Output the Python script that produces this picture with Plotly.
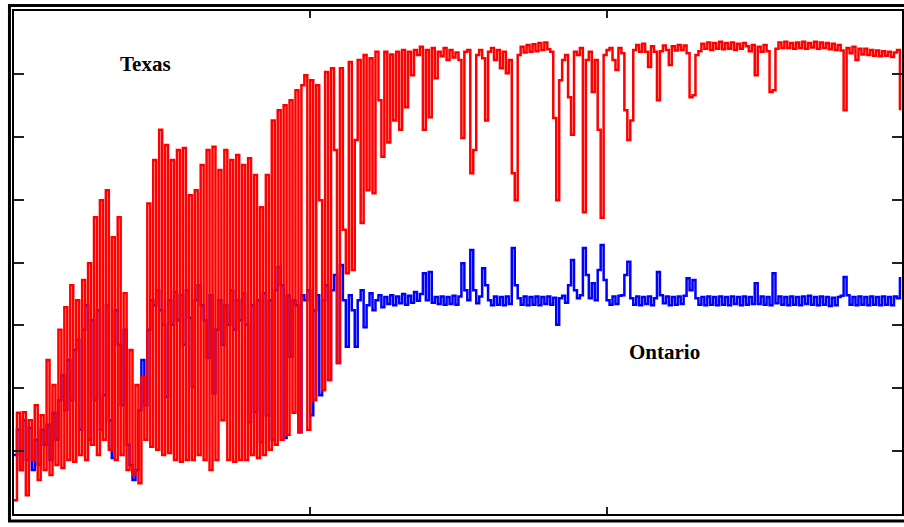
import plotly.graph_objects as go

# Sample spacing along the (unlabelled) horizontal axis
x_step = 10

texas = [
    2.2, 16.1, 7.0, 16.2, 3.0, 14.9, 8.6, 17.3, 5.4, 15.7,
    7.0, 24.5, 6.2, 20.5, 7.8, 29.3, 7.3, 32.9, 8.6, 36.4,
    8.3, 34.0, 9.4, 37.2, 8.6, 39.9, 11.0, 47.2, 9.4, 49.9,
    11.8, 51.5, 10.2, 44.0, 8.6, 47.2, 9.4, 35.1, 7.0, 26.1,
    6.2, 20.5, 4.9, 21.8, 11.8, 49.4, 10.7, 56.3, 10.2, 61.1,
    9.4, 58.7, 9.7, 56.3, 8.6, 57.9, 8.3, 58.2, 8.6, 50.7,
    8.6, 51.5, 9.4, 55.5, 8.6, 57.9, 7.0, 58.4, 8.6, 54.7,
    14.9, 57.9, 8.6, 56.3, 8.3, 57.1, 8.6, 55.5, 8.6, 56.6,
    9.4, 53.9, 8.9, 48.8, 9.4, 53.9, 10.2, 62.6, 11.0, 64.2,
    11.8, 65.0, 12.6, 65.8, 16.1, 67.4, 13.0, 68.2, 69.8, 13.4,
    69.0, 18.1, 68.2, 49.9, 19.7, 70.3, 21.3, 70.9, 57.9, 24.0,
    70.9, 45.2, 38.3, 71.9, 38.8, 59.5, 72.2, 46.3, 73.0, 51.5,
    72.5, 51.0, 73.5, 65.8, 56.8, 73.5, 59.1, 73.1, 62.6, 73.5,
    61.1, 73.8, 64.7, 73.5, 69.8, 73.8, 73.0, 74.3, 61.1, 73.8,
    63.1, 74.1, 69.3, 73.5, 72.8, 74.1, 72.2, 73.8, 72.6, 73.4,
    72.2, 59.8, 73.5, 73.8, 54.2, 57.9, 73.0, 73.8, 72.5, 62.6,
    73.5, 74.1, 72.2, 73.8, 70.9, 73.5, 70.1, 72.2, 54.2, 49.9,
    73.0, 74.3, 73.4, 74.6, 73.5, 74.7, 73.6, 74.9, 73.8, 75.0,
    73.9, 73.5, 63.0, 49.9, 69.0, 72.2, 73.0, 66.3, 60.3, 73.5,
    73.0, 74.1, 48.0, 72.2, 73.5, 67.1, 72.2, 61.1, 47.1, 73.0,
    73.8, 74.1, 72.2, 70.6, 74.1, 73.3, 64.2, 59.5, 62.6, 73.8,
    74.6, 73.5, 74.8, 73.5, 71.1, 74.4, 73.5, 65.8, 73.6, 74.5,
    73.8, 71.4, 74.4, 73.7, 74.6, 73.8, 74.5, 73.3, 66.3, 66.6,
    73.0, 73.6, 74.8, 74.0, 75.0, 73.8, 74.9, 74.0, 75.1, 73.9,
    74.9, 74.0, 75.0, 73.8, 74.8, 74.0, 74.9, 74.4, 73.6, 74.6,
    69.8, 74.3, 73.5, 74.6, 73.6, 67.1, 67.4, 74.0, 75.0, 74.1,
    75.1, 74.1, 74.9, 74.0, 75.0, 74.1, 75.1, 74.0, 74.9, 74.2,
    75.1, 74.0, 75.0, 74.1, 74.9, 73.9, 74.8, 73.8, 74.6, 73.7,
    64.2, 74.1, 73.3, 74.3, 72.2, 74.0, 73.1, 74.0, 73.0, 73.8,
    72.9, 73.7, 72.8, 73.6, 72.9, 73.5, 72.7, 73.4, 73.8, 64.2,
]

ontario = [
    9.4, 13.4, 7.0, 14.9, 8.6, 13.7, 7.0, 11.8, 7.8, 13.4,
    11.0, 14.2, 8.6, 16.1, 11.8, 18.1, 22.1, 16.5, 24.5, 18.1,
    26.1, 27.7, 13.4, 29.3, 33.2, 11.8, 30.8, 18.1, 32.4, 13.4,
    18.9, 33.2, 14.9, 8.9, 32.4, 26.9, 17.3, 29.3, 11.0, 7.8,
    5.4, 7.0, 16.5, 24.5, 17.3, 29.3, 34.0, 33.2, 35.6, 32.4,
    30.1, 18.6, 34.0, 30.1, 35.3, 30.8, 34.8, 26.9, 35.6, 31.2,
    20.2, 34.0, 36.4, 33.2, 30.8, 24.8, 34.8, 19.2, 29.3, 34.0,
    26.9, 33.2, 30.1, 35.6, 29.3, 34.0, 30.8, 35.1, 30.1, 14.6,
    33.2, 16.2, 34.0, 11.4, 35.1, 15.7, 34.0, 11.8, 35.6, 39.3,
    36.4, 12.1, 34.8, 25.0, 34.0, 33.2, 13.0, 34.8, 34.0, 35.6,
    15.7, 32.4, 34.8, 18.9, 34.0, 36.4, 21.3, 35.6, 38.0, 24.0,
    39.6, 34.0, 26.6, 34.8, 32.4, 26.6, 34.0, 35.6, 29.7, 33.2,
    35.1, 32.4, 34.0, 34.8, 32.9, 34.5, 33.4, 34.8, 33.2, 34.6,
    33.5, 35.0, 33.3, 34.7, 33.6, 35.3, 33.9, 35.0, 38.3, 34.0,
    38.5, 33.6, 34.5, 33.4, 34.6, 33.3, 34.5, 33.4, 34.7, 33.3,
    34.6, 39.9, 35.6, 34.0, 42.0, 35.6, 33.5, 34.6, 39.1, 36.4,
    34.0, 33.2, 34.6, 33.3, 34.5, 33.2, 34.6, 33.4, 42.3, 36.4,
    34.3, 33.3, 34.6, 33.2, 34.5, 33.3, 34.6, 33.2, 34.5, 33.4,
    34.6, 33.3, 34.4, 30.1, 34.3, 34.7, 33.6, 36.4, 40.4, 35.6,
    34.3, 34.8, 42.3, 38.0, 34.3, 36.7, 34.0, 38.8, 42.8, 37.2,
    34.0, 33.3, 34.6, 33.4, 34.7, 34.8, 38.0, 40.1, 34.3, 33.3,
    34.6, 33.2, 34.5, 33.4, 34.6, 33.2, 34.3, 38.5, 34.8, 33.5,
    34.6, 33.2, 34.5, 33.3, 34.6, 33.4, 34.7, 37.5, 35.6, 37.2,
    34.3, 33.3, 34.5, 33.2, 34.6, 33.3, 34.5, 33.2, 34.6, 33.3,
    34.5, 33.2, 34.6, 33.4, 34.5, 33.2, 34.6, 33.3, 34.5, 33.4,
    36.7, 33.4, 34.6, 33.3, 34.5, 33.2, 38.3, 33.5, 34.6, 33.3,
    34.5, 33.2, 34.6, 33.3, 34.5, 33.2, 34.6, 33.4, 34.7, 33.3,
    34.5, 33.2, 34.6, 33.3, 34.5, 33.1, 34.4, 33.2, 34.5, 34.7,
    37.7, 34.8, 33.3, 34.5, 33.2, 34.6, 33.3, 34.5, 33.2, 34.6,
    33.3, 34.5, 33.2, 34.6, 33.3, 34.5, 33.2, 34.6, 34.3, 37.7,
]

y_ticks = [10, 20, 30, 40, 50, 60, 70]
x_ticks = [1000, 2000]

x_texas = [i * x_step for i in range(len(texas))]
x_ontario = [i * x_step for i in range(len(ontario))]

fig = go.Figure()
fig.add_trace(go.Scatter(x=x_ontario, y=ontario, mode="lines", line_shape="hv",
                         line=dict(color="#0000FF", width=2.5), name="Ontario",
                         hoverinfo="skip"))
fig.add_trace(go.Scatter(x=x_texas, y=texas, mode="lines", line_shape="hv",
                         line=dict(color="#FF0000", width=2.5), name="Texas",
                         hoverinfo="skip"))

axis_common = dict(showline=True, linecolor="black", linewidth=2, mirror="ticks",
                   ticks="inside", tickcolor="#222222", tickwidth=1.5,
                   showticklabels=False, showgrid=False, zeroline=False)

fig.update_xaxes(range=[0, 2997], tickvals=x_ticks, ticklen=7, **axis_common)
fig.update_yaxes(range=[0, 80], tickvals=y_ticks, ticklen=10, **axis_common)

# outer double frame
fig.add_shape(type="rect", xref="paper", yref="paper",
              x0=-0.0051, x1=1.02, y0=-0.0139, y1=1.0110,
              line=dict(color="black", width=3), fillcolor="rgba(0,0,0,0)")

label_font = dict(family="Liberation Serif, Times New Roman, serif", size=21, color="black")
fig.add_annotation(text="<b>Texas</b>", xref="paper", yref="paper", x=0.148, y=0.895,
                   xanchor="center", yanchor="middle", showarrow=False, font=label_font)
fig.add_annotation(text="<b>Ontario</b>", xref="paper", yref="paper", x=0.733, y=0.322,
                   xanchor="center", yanchor="middle", showarrow=False, font=label_font)

fig.update_layout(width=904, height=527, margin=dict(l=14, r=0, t=11, b=13),
                  paper_bgcolor="white", plot_bgcolor="white", showlegend=False)

fig.write_html("out.html", config={"displayModeBar": False},
               post_script="document.body.style.margin='0';document.body.style.overflow='hidden';")
